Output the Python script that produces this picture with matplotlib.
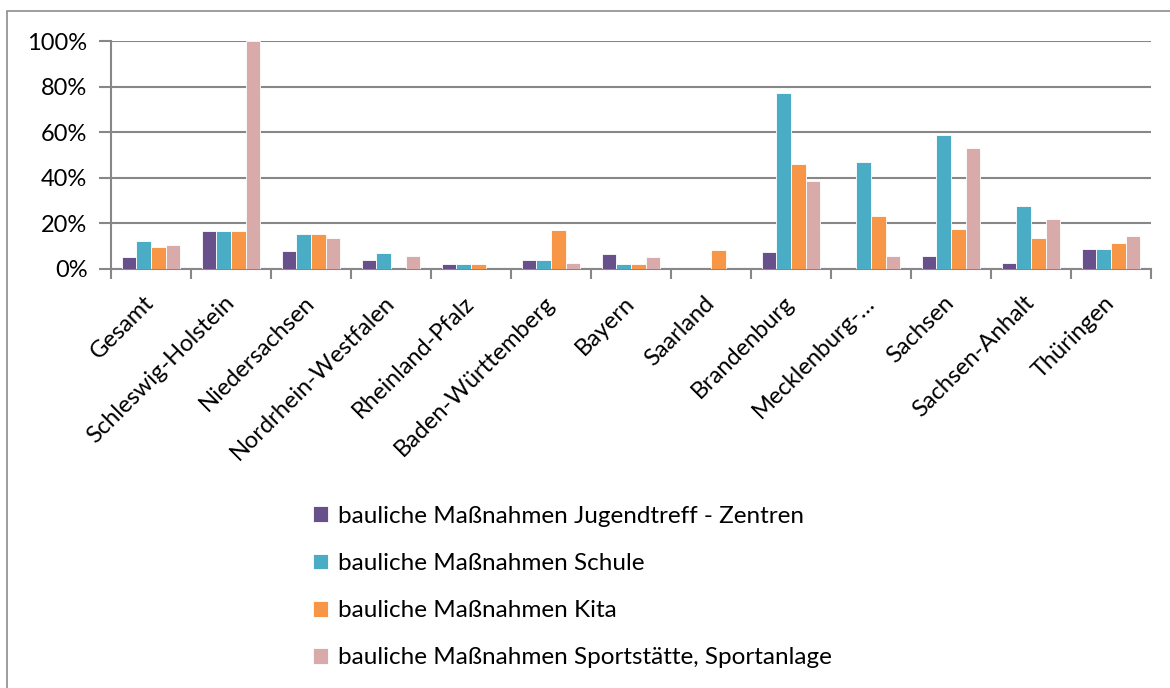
import numpy as np
import matplotlib.pyplot as plt
from matplotlib.patches import Rectangle
from matplotlib.ticker import FuncFormatter
import matplotlib.transforms as mtransforms

# categories (Bundeslaender) and the four series, in percent
laender = ['Gesamt', 'Schleswig-Holstein', 'Niedersachsen', 'Nordrhein-Westfalen',
           'Rheinland-Pfalz', 'Baden-Württemberg', 'Bayern', 'Saarland',
           'Brandenburg', 'Mecklenburg-…', 'Sachsen', 'Sachsen-Anhalt', 'Thüringen']

jugendtreff = [5.1, 16.5, 7.7, 3.9, 2.0, 4.1, 6.7, 0.0, 7.6, 0.0, 5.7, 2.5, 8.6]
schule = [12.3, 16.5, 15.5, 7.0, 2.0, 4.1, 2.0, 0.0, 77.0, 46.9, 58.6, 27.6, 8.6]
kita = [9.5, 16.5, 15.5, 0.0, 2.0, 17.1, 2.0, 8.2, 46.1, 23.4, 17.4, 13.6, 11.6]
sport = [10.5, 100.0, 13.4, 5.6, 0.0, 2.5, 5.1, 0.0, 38.4, 5.7, 52.9, 22.1, 14.5]

series_names = ['bauliche Maßnahmen Jugendtreff - Zentren',
                'bauliche Maßnahmen Schule',
                'bauliche Maßnahmen Kita',
                'bauliche Maßnahmen Sportstätte, Sportanlage']
colours = ['#68508A', '#4BACC6', '#F79646', '#D9AAAA']

plt.rcParams['font.family'] = ['Lato', 'DejaVu Sans']
fsize = 17

fig = plt.figure(figsize=(11.7, 6.88), dpi=100)
W, H = 1170, 688
# plot area in pixels: x 111..1151, y 41..269
ax = fig.add_axes([111 / W, 1 - 269 / H, (1151 - 111) / W, (269 - 41) / H])

x = np.arange(len(laender))
bw = 0.184
all_series = [jugendtreff, schule, kita, sport]
for i, vals in enumerate(all_series):
    ax.bar(x + (i - 1.5) * bw, vals, width=bw, color=colours[i],
           edgecolor='white', linewidth=0.6, label=series_names[i], zorder=3)

grid_col = '#878787'
ax.set_ylim(0, 100)
ax.set_xlim(-0.5, len(laender) - 0.5)
ax.set_yticks(np.arange(0, 101, 20))
ax.yaxis.set_major_formatter(FuncFormatter(lambda v, p: '%d%%' % v))
ax.grid(axis='y', color=grid_col, linewidth=1.5, zorder=0)
ax.set_axisbelow(True)

for s in ['top', 'right']:
    ax.spines[s].set_visible(False)
for s in ['left', 'bottom']:
    ax.spines[s].set_color(grid_col)
    ax.spines[s].set_linewidth(1.5)

# ticks at category boundaries, labels at centres
ax.set_xticks(np.arange(-0.5, len(laender), 1.0))
ax.set_xticklabels([])
ax.set_xticks(x, minor=True)
ax.set_xticklabels(laender, minor=True, rotation=45, ha='right', va='center',
                   rotation_mode='anchor', fontsize=fsize)
shift = mtransforms.ScaledTranslation(6 / 100, 0, fig.dpi_scale_trans)
for lab in ax.get_xticklabels(minor=True):
    lab.set_transform(lab.get_transform() + shift)
ax.tick_params(axis='x', which='major', length=7, width=1.5, color=grid_col, direction='out')
ax.tick_params(axis='x', which='minor', length=0, pad=22)
ax.tick_params(axis='y', length=9, width=1.5, color=grid_col, pad=8, labelsize=fsize)

leg = fig.legend(loc='upper left', bbox_to_anchor=(303 / W, 1 - 496 / H),
                 frameon=False, fontsize=17.5, handlelength=0.62, handleheight=0.62,
                 handletextpad=0.42, labelspacing=1.08, borderaxespad=0)

# outer chart border (only left and top visible in the crop)
fig.patches.append(Rectangle((7 / W, -0.1), 1.2, 1 - 11 / H + 0.1, transform=fig.transFigure,
                             fill=False, edgecolor='#8c8c8c', linewidth=1.2))

fig.savefig('out.png', dpi=100)
